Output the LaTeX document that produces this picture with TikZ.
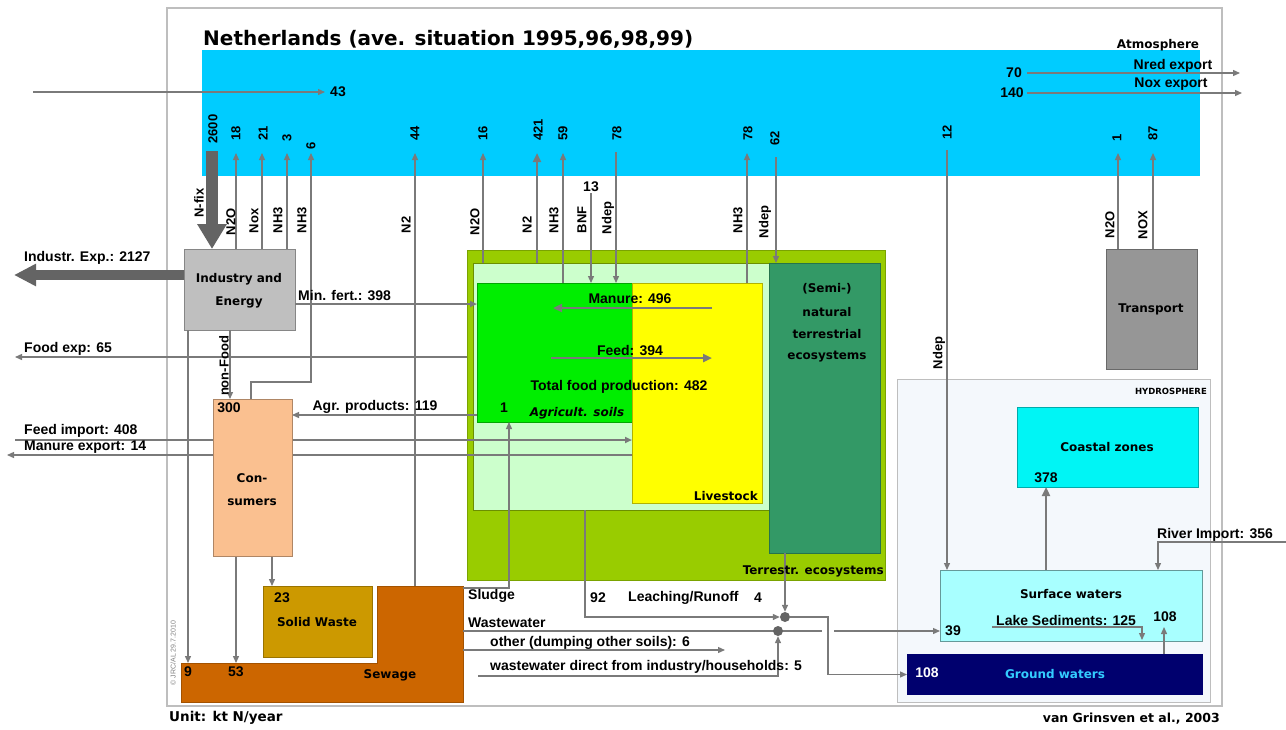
\documentclass[tikz,border=0pt]{standalone}
\usepackage{fontspec}
\setmainfont{Liberation Sans}
\newfontfamily\cf{DejaVu Sans}
\usetikzlibrary{arrows.meta}
\definecolor{framec}{HTML}{BEBEBE}
\definecolor{atmc}{HTML}{00CCFF}
\definecolor{terc}{HTML}{99CC00}
\definecolor{terinc}{HTML}{CCFFCC}
\definecolor{agric}{HTML}{00EE00}
\definecolor{livec}{HTML}{FFFF00}
\definecolor{semic}{HTML}{339966}
\definecolor{consc}{HTML}{FAC090}
\definecolor{indc}{HTML}{BFBFBF}
\definecolor{transc}{HTML}{969696}
\definecolor{solidc}{HTML}{CC9900}
\definecolor{sewc}{HTML}{CC6600}
\definecolor{hydc}{HTML}{F4F8FC}
\definecolor{coastc}{HTML}{00F5F5}
\definecolor{surfc}{HTML}{A8FFFF}
\definecolor{groundc}{HTML}{00006E}
\definecolor{gwtext}{HTML}{33CCFF}
\definecolor{flow}{HTML}{7A7A7A}
\definecolor{heavy}{HTML}{646464}
\begin{document}
\begin{tikzpicture}[x=1pt,y=-1pt,
  box/.style={rectangle,inner sep=0pt,outer sep=0pt,anchor=north west,line width=0.8pt},
  lab/.style={inner sep=0pt,font=\fontsize{14}{16}\selectfont\bfseries},
  vlab/.style={lab,rotate=90,font=\fontsize{13}{15}\selectfont\bfseries},
  cl/.style={inner sep=0pt,font=\cf\fontsize{12}{14}\selectfont\bfseries},
  fl/.style={draw=flow,line width=1.3pt,-{Triangle[length=7pt,width=6pt]}},
  fln/.style={draw=flow,line width=1.3pt},
  flw/.style={draw=flow,line width=2.3pt,-{Triangle[length=9pt,width=8pt]}},
  big/.style={draw=heavy,line width=12pt,-{Triangle[length=25pt,width=28pt]}},
  bigh/.style={draw=heavy,line width=10pt,-{Triangle[length=22pt,width=21pt]}},
  dotn/.style={circle,minimum size=10pt,inner sep=0pt}]
\useasboundingbox (0,0) rectangle (1286,729);
\fill[white] (0,0) rectangle (1286,729);
% ---------- boxes ----------
\node[box,draw=framec,line width=1.5pt,minimum width=1055pt,minimum height=698pt] (frame) at (167,8) {};
\node[box,fill=atmc,minimum width=998pt,minimum height=126pt] (atm) at (202,50) {};
\node[box,fill=hydc,draw=framec,minimum width=313pt,minimum height=323pt] (hydro) at (897,379) {};
\node[box,fill=terc,draw=terc!80!black,minimum width=418pt,minimum height=330pt] (terr) at (467,250) {};
\node[box,fill=terinc,draw=terc!70!black,minimum width=297pt,minimum height=247pt] (terin) at (473,263) {};
\node[box,fill=agric,draw=agric!70!black,minimum width=155pt,minimum height=139pt] (agri) at (477,283) {};
\node[box,fill=livec,draw=livec!70!black,line width=0.5pt,minimum width=130pt,minimum height=220pt] (live) at (632,283) {};
\node[box,fill=semic,draw=semic!75!black,minimum width=111pt,minimum height=290pt] (semi) at (769,263) {};
\node[box,fill=indc,draw=indc!70!black,minimum width=111pt,minimum height=81pt] (ind) at (184,249) {};
\node[box,fill=transc,draw=transc!70!black,minimum width=91pt,minimum height=120pt] (trans) at (1106,249) {};
\node[box,fill=solidc,draw=solidc!75!black,minimum width=109pt,minimum height=71pt] (solid) at (263,586) {};
\node[box,fill=sewc,minimum width=86pt,minimum height=116pt] (sewt) at (377,586) {};
\node[box,fill=sewc,minimum width=282pt,minimum height=39pt] (sewb) at (181,663) {};
\draw[sewc!80!black,line width=0.8pt] (sewb.north west) -- (sewt.west |- sewb.north) -- (sewt.north west) -- (sewt.north east) -- (sewt.south east) -- (sewb.south west) -- cycle;
\node[box,fill=coastc,draw=coastc!70!black,minimum width=181pt,minimum height=80pt] (coast) at (1017,407) {};
\node[box,fill=surfc,draw=surfc!60!black,minimum width=262pt,minimum height=71pt] (surf) at (940,570) {};
\node[box,fill=groundc,minimum width=296pt,minimum height=41pt] (ground) at (907,654) {};
\node[box,minimum width=79pt,minimum height=157pt] (cons) at (213,399) {};
% ---------- coordinates ----------
\coordinate (a2600) at (212,151);
\coordinate (a18) at (236,153);
\coordinate (a21) at (262,153);
\coordinate (a3) at (287,153);
\coordinate (a6) at (311,153);
\coordinate (c6) at (251,382);
\coordinate (a44) at (415,153);
\coordinate (a16) at (483,153);
\coordinate (a421) at (537,153);
\coordinate (a59) at (563,153);
\coordinate (b13) at (591,193);
\coordinate (a78a) at (616,152);
\coordinate (a78b) at (747,153);
\coordinate (a62) at (776,157);
\coordinate (a12) at (947,150);
\coordinate (a1) at (1118,153);
\coordinate (a87) at (1153,153);
\coordinate (in43) at (33,92);
\coordinate (e43) at (325,92);
\coordinate (s70) at (1027,73);
\coordinate (e70) at (1240,73);
\coordinate (s140) at (1027,93);
\coordinate (e140) at (1242,93);
\coordinate (iexp) at (14,275);
\coordinate (mf) at (295,304);
\coordinate (fe) at (15,357);
\coordinate (nf) at (230,330);
\coordinate (ap) at (477,415);
\coordinate (fi) at (15,440);
\coordinate (me) at (7,455);
\coordinate (m1) at (712,308);
\coordinate (m2) at (553,308);
\coordinate (f1) at (551,358);
\coordinate (f2) at (712,358);
\coordinate (n9) at (188,330);
\coordinate (n53) at (236,556);
\coordinate (n23) at (272,556);
\coordinate (sl) at (509,588);
\coordinate (ww) at (463,631);
\coordinate (j1) at (822,631);
\coordinate (j2) at (834,631);
\coordinate (ot) at (725,650);
\coordinate (wd) at (478,676);
\coordinate (lr) at (585,617);
\coordinate (gj) at (828,617);
\coordinate (cz) at (1046,600);
\coordinate (ri1) at (1286,542);
\coordinate (ri2) at (1158,542);
\coordinate (ls1) at (992,627);
\coordinate (ls2) at (1142,627);
\coordinate (ls3) at (1142,640);
\coordinate (gu) at (1164,627);
\node[dotn] (dot1) at (785,617) {};
\node[dotn] (dot2) at (778,631) {};
% ---------- connectors ----------
\draw[fl] (in43) -- (e43);
\draw[fl] (s70) -- (e70);
\draw[fl] (s140) -- (e140);
\draw[big] (a2600) -- (ind.north -| a2600);
\draw[fl] (ind.north -| a18) -- (a18);
\draw[fl] (ind.north -| a21) -- (a21);
\draw[fl] (ind.north -| a3) -- (a3);
\draw[fl] (cons.north -| c6) -- (c6) -| (a6);
\draw[fl] (sewt.north -| a44) -- (a44);
\draw[fl] (terin.north -| a16) -- (a16);
\draw[flw] (terin.north -| a421) -- (a421);
\draw[fl] (agri.north -| a59) -- (a59);
\draw[fl] (b13) -- (agri.north -| b13);
\draw[fl] (a78a) -- (agri.north -| a78a);
\draw[fl] (live.north -| a78b) -- (a78b);
\draw[fl] (a62) -- (semi.north -| a62);
\draw[fl] (a12) -- (surf.north -| a12);
\draw[fl] (trans.north -| a1) -- (a1);
\draw[fl] (trans.north -| a87) -- (a87);
\draw[bigh] (ind.west |- iexp) -- (iexp);
\draw[fl,line width=2pt] (ind.east |- mf) -- (agri.west |- mf);
\draw[fl] (terr.west |- fe) -- (fe);
\draw[fl] (ind.south -| nf) -- (cons.north -| nf);
\draw[fl] (agri.west |- ap) -- (cons.east |- ap);
\draw[fl,line width=2pt] (fi) -- (live.west |- fi);
\draw[fl] (live.west |- me) -- (me);
\draw[flw] (m1) -- (m2);
\draw[flw] (f1) -- (f2);
\draw[fl] (ind.south -| n9) -- (sewb.north -| n9);
\draw[fl] (cons.south -| n53) -- (sewb.north -| n53);
\draw[fl] (cons.south -| n23) -- (solid.north -| n23);
\draw[fl] (sewt.east |- sl) -| (agri.south -| sl);
\draw[fln] (sewt.east |- ww) -- (j1);
\draw[fl] (j2) -- (surf.west |- ww);
\draw[fl] (sewt.east |- ot) -- (ot);
\draw[fl] (wd) -| (dot2.south);
\draw[fl] (terin.south -| lr) |- (dot1.west);
\draw[fl] (semi.south -| dot1) -- (dot1.north);
\draw[fl] (dot1.east) -- (gj) |- (ground.west);
\draw[flw] (surf.north -| cz) -- (coast.south -| cz);
\draw[fl] (ri1) -- (ri2) -- (surf.north -| ri2);
\draw[fl] (ls1) -- (ls2) -- (ls3);
\draw[fl] (ground.north -| gu) -- (gu);
% consumers box drawn over the crossing lines
\filldraw[fill=consc,draw=consc!70!black,line width=0.8pt] (cons.north west) rectangle (cons.south east);
\fill[heavy] (dot1) circle (5pt);
\fill[heavy] (dot2) circle (5pt);
% ---------- texts ----------
\node[inner sep=0pt,anchor=west,font=\cf\fontsize{20}{22}\selectfont\bfseries] (title) at (203,39) {Netherlands (ave. situation 1995,96,98,99)};
\node[cl,font=\cf\fontsize{12}{14}\selectfont\bfseries] (tatm) at (1158,45) {Atmosphere};
\node[lab] (t43) at (338,92) {43};
\node[lab] (t70) at (1014,73) {70};
\node[lab] (t140) at (1012,93) {140};
\node[lab] (tnred) at (1173,66) {Nred export};
\node[lab] (tnox) at (1171,84) {Nox export};
\node[vlab] (v2600) at (213,129) {2600};
\node[vlab] (v18) at (236,133) {18};
\node[vlab] (v21) at (263,133) {21};
\node[vlab] (v3) at (287,138) {3};
\node[vlab] (v6) at (311,146) {6};
\node[vlab] (v44) at (415,133) {44};
\node[vlab] (v16) at (483,133) {16};
\node[vlab] (v421) at (538,130) {421};
\node[vlab] (v59) at (563,133) {59};
\node[vlab] (v78a) at (617,133) {78};
\node[vlab] (v78b) at (748,133) {78};
\node[vlab] (v62) at (775,138) {62};
\node[vlab] (v12) at (947,132) {12};
\node[vlab] (v1) at (1117,138) {1};
\node[vlab] (v87) at (1153,133) {87};
\node[vlab] (lnfix) at (199,203) {N-fix};
\node[vlab] (ln2oa) at (231,222) {N2O};
\node[vlab] (lnoxa) at (254,221) {Nox};
\node[vlab] (lnh3a) at (278,220) {NH3};
\node[vlab] (lnh3b) at (302,220) {NH3};
\node[vlab] (ln2a) at (406,225) {N2};
\node[vlab] (ln2ob) at (475,222) {N2O};
\node[vlab] (ln2b) at (527,225) {N2};
\node[vlab] (lnh3c) at (554,220) {NH3};
\node[vlab] (lbnf) at (582,220) {BNF};
\node[vlab] (lndepa) at (608,218) {Ndep};
\node[vlab] (lnh3d) at (738,220) {NH3};
\node[vlab] (lndepb) at (765,222) {Ndep};
\node[vlab] (ln2oc) at (1110,225) {N2O};
\node[vlab] (lnoxc) at (1143,225) {NOX};
\node[vlab] (lndepc) at (939,353) {Ndep};
\node[lab] (t13) at (591,187) {13};
\node[cl] (tind1) at (239,279) {Industry and};
\node[cl] (tind2) at (239,302) {Energy};
\node[lab,anchor=west] (tiexp) at (24,258) {Industr. Exp.: 2127};
\node[lab,anchor=west] (tmf) at (298,295) {Min. fert.: 398};
\node[lab,anchor=west] (tfe) at (24,349) {Food exp: 65};
\node[vlab] (tnf) at (224,366) {non-Food};
\node[lab] (t300) at (229,408) {300};
\node[cl] (tcons1) at (252,478) {Con-};
\node[cl] (tcons2) at (252,502) {sumers};
\node[lab] (tap) at (375,407) {Agr. products: 119};
\node[lab,anchor=west] (tfi) at (24,431) {Feed import: 408};
\node[lab,anchor=west] (tme) at (24,447) {Manure export: 14};
\node[lab] (tman) at (630,299) {Manure: 496};
\node[lab] (tfeed) at (630,350) {Feed: 394};
\node[lab] (ttfp) at (619,387) {Total food production: 482};
\node[lab] (tone) at (504,408) {1};
\node[cl,font=\cf\fontsize{12}{14}\selectfont\bfseries\itshape] (tagri) at (577,413) {Agricult. soils};
\node[cl,anchor=east] (tlive) at (758,496) {Livestock};
\node[cl] (tsemi1) at (827,289) {(Semi-)};
\node[cl] (tsemi2) at (827,312) {natural};
\node[cl] (tsemi3) at (827,334) {terrestrial};
\node[cl] (tsemi4) at (827,357) {ecosystems};
\node[cl,anchor=east] (tterr) at (884,571) {Terrestr. ecosystems};
\node[cl] (ttrans) at (1151,309) {Transport};
\node[cl,anchor=east,font=\cf\fontsize{8.5}{10}\selectfont\bfseries] (thyd) at (1207,391) {HYDROSPHERE};
\node[cl] (tcoast) at (1107,447) {Coastal zones};
\node[lab] (t378) at (1046,478) {378};
\node[lab,anchor=west] (tri) at (1157,535) {River Import: 356};
\node[cl] (tsurf) at (1071,594) {Surface waters};
\node[lab,anchor=west] (tls) at (996,620) {Lake Sediments: 125};
\node[lab] (t108a) at (1165,617) {108};
\node[lab] (t39) at (953,631) {39};
\node[lab,text=white] (t108b) at (927,673) {108};
\node[cl,text=gwtext] (tgw) at (1055,674) {Ground waters};
\node[lab] (t23) at (282,598) {23};
\node[cl] (tsolid) at (317,622) {Solid Waste};
\node[lab] (t9) at (188,672) {9};
\node[lab] (t53) at (236,672) {53};
\node[cl] (tsew) at (390,675) {Sewage};
\node[lab,anchor=west] (tsl) at (468,596) {Sludge};
\node[lab,anchor=west] (tww) at (468,623) {Wastewater};
\node[lab] (t92) at (598,598) {92};
\node[lab,anchor=west] (tlr) at (628,598) {Leaching/Runoff};
\node[lab] (t4) at (758,598) {4};
\node[lab,anchor=west] (tot) at (490,643) {other (dumping other soils): 6};
\node[lab,anchor=west] (twd) at (490,667) {wastewater direct from industry/households: 5};
\node[cl,anchor=west,font=\cf\fontsize{13.5}{15}\selectfont\bfseries] (tunit) at (169,718) {Unit: kt N/year};
\node[cl,anchor=east,font=\cf\fontsize{12.5}{14}\selectfont\bfseries] (tref) at (1220,719) {van Grinsven et al., 2003};
\node[inner sep=0pt,rotate=90,text=gray,font=\fontsize{7}{8}\selectfont] (tjrc) at (173,653) {\textcopyright\ JRC/AL 29.7.2010};
\end{tikzpicture}
\end{document}
